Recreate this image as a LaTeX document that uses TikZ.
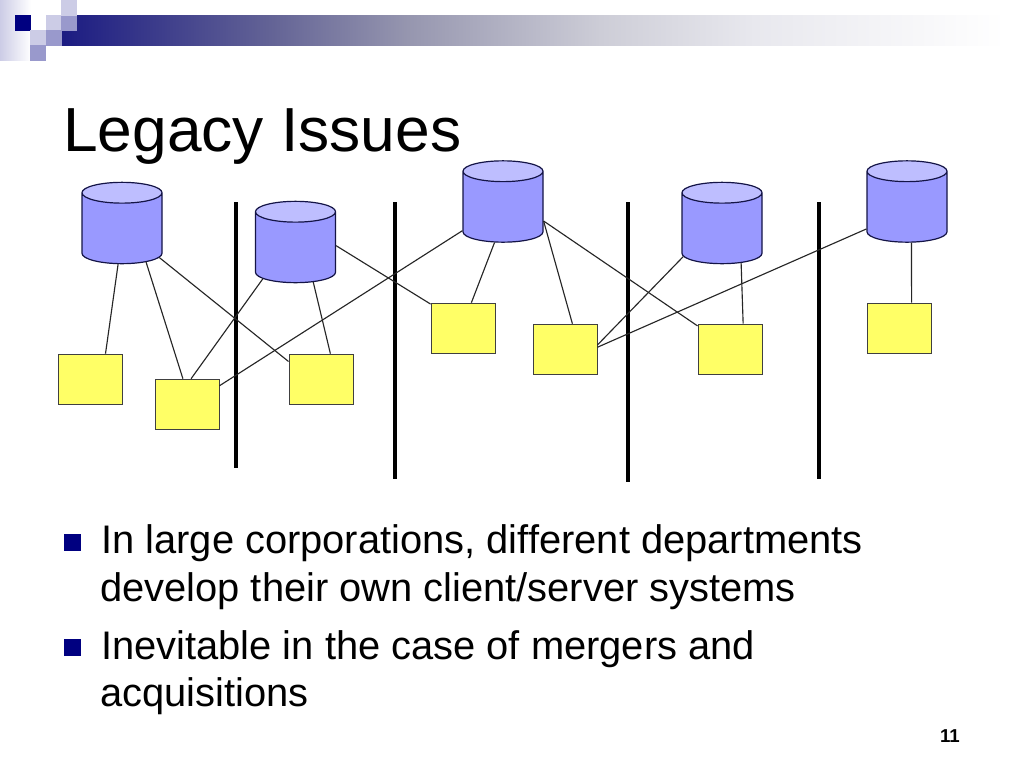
\documentclass[tikz,border=0pt]{standalone}
\usepackage{fontspec}
\setmainfont{Liberation Sans}
\usetikzlibrary{shapes.geometric}
\definecolor{navy}{RGB}{0,0,128}
\definecolor{tilemid}{RGB}{153,153,204}
\definecolor{tilelight}{RGB}{204,204,230}
\definecolor{dbbody}{RGB}{153,153,255}
\definecolor{dbtop}{RGB}{190,190,255}
\definecolor{clientfill}{RGB}{255,255,102}
\definecolor{edgeblue}{RGB}{20,20,70}
\pgfdeclarehorizontalshading{barfade}{100bp}{
  rgb(0bp)=(.106,.106,.51);
  rgb(25bp)=(.106,.106,.51);
  rgb(36bp)=(.392,.392,.588);
  rgb(43bp)=(.588,.588,.686);
  rgb(53bp)=(.804,.804,.843);
  rgb(61bp)=(.91,.91,.933);
  rgb(74bp)=(1,1,1);
  rgb(100bp)=(1,1,1)}
\begin{document}
\begin{tikzpicture}[x=.75pt,y=-.75pt]
\tikzstyle{database}=[shape=cylinder, shape border rotate=90, aspect=.78, anchor=shape center, draw=edgeblue, line width=.9pt, minimum width=60pt, minimum height=61pt, inner sep=10pt, cylinder uses custom fill, cylinder body fill=dbbody, cylinder end fill=dbtop]
\tikzstyle{client}=[rectangle, draw=black!75, line width=.7pt, fill=clientfill, minimum width=48pt, minimum height=38pt, inner sep=0pt]
\tikzstyle{link}=[line width=.85pt, black!85]
\tikzstyle{divider}=[line width=3.6pt, black]
\tikzstyle{tile}=[rectangle, minimum size=11.6pt, inner sep=0pt]
\tikzstyle{bullet}=[rectangle, fill=navy, minimum size=12.75pt, inner sep=0pt]
\tikzstyle{bodytext}=[anchor=base west, inner sep=0pt, font=\fontsize{29.9pt}{34pt}\selectfont]
\useasboundingbox (0,0) rectangle (1024,768);
\fill[white] (0,0) rectangle (1024,768);
% header strip
\shade[left color=tilelight, right color=white] (0,0) rectangle (31,60);
\shade[shading=barfade] (61,15) rectangle (1024,45);
\fill[white] (31,15) rectangle (61,30);
\draw (23,23) node (t1) [tile,fill=navy] {};
\draw (54,23) node (t2) [tile,fill=tilelight] {};
\draw (69,23) node (t3) [tile,fill=tilemid] {};
\draw (69,8) node (t4) [tile,fill=tilelight] {};
\draw (38,38) node (t5) [tile,fill=tilelight] {};
\draw (54,38) node (t6) [tile,fill=tilemid] {};
\draw (38,53) node (t7) [tile,fill=tilemid] {};
% title
\draw (63,151) node (title) [anchor=base west, inner sep=0pt, font=\fontsize{46.7pt}{50pt}\selectfont] {Legacy Issues};
% dividers
\draw[divider] (236,202) -- (236,468);
\draw[divider] (395,202) -- (395,479);
\draw[divider] (628,202) -- (628,482);
\draw[divider] (819,202) -- (819,479);
% servers
\draw (122,223) node (db1) [database] {};
\draw (295.5,242) node (db2) [database] {};
\draw (503,201.5) node (db3) [database] {};
\draw (722,223) node (db4) [database] {};
\draw (907,201.5) node (db5) [database] {};
% clients
\draw (90,379.5) node (c1) [client] {};
\draw (187,404.5) node (c2) [client] {};
\draw (321,379.5) node (c3) [client] {};
\draw (463,328.5) node (c4) [client] {};
\draw (565,349.5) node (c5) [client] {};
\draw (730,349.5) node (c6) [client] {};
\draw (899,328.5) node (c7) [client] {};
% links
\draw[link] (db1.-97.4) -- (c1.59.5);
\draw[link] (db1.-51.6) -- (c2.99);
\draw[link] (db1.-34) -- (c3.151.3);
\draw[link] (db2.220.7) -- (c2.81);
\draw[link] (db2.-60.6) -- (c3.70.6);
\draw[link] (db2.8.4) -- (c4.143.7);
\draw[link] (db3.206) -- (c2.30);
\draw[link] (db3.255.3) -- (c4.72.6);
\draw[link] (db3.-14.7) -- (c5.74.6);
\draw[link] (db3.-14.7) -- (c6.144.9);
\draw[link] (db4.212.3) -- (c5.8);
\draw[link] (db4.-58.5) -- (c6.63);
\draw[link] (db5.204.7) -- (c5.4.5);
\draw[link] (db5.-82.5) -- (c7.64.8);
% text
\draw (72.5,542) node (b1) [bullet] {};
\draw (72.5,647) node (b2) [bullet] {};
\draw (101,553) node (l1) [bodytext] {In large corporations, different departments};
\draw (100,601) node (l2) [bodytext] {develop their own client/server systems};
\draw (101,659) node (l3) [bodytext] {Inevitable in the case of mergers and};
\draw (100,706) node (l4) [bodytext] {acquisitions};
\draw (950,742) node (pagenum) [anchor=base, inner sep=0pt, font=\fontsize{14pt}{16pt}\selectfont\bfseries] {11};
\end{tikzpicture}
\end{document}
